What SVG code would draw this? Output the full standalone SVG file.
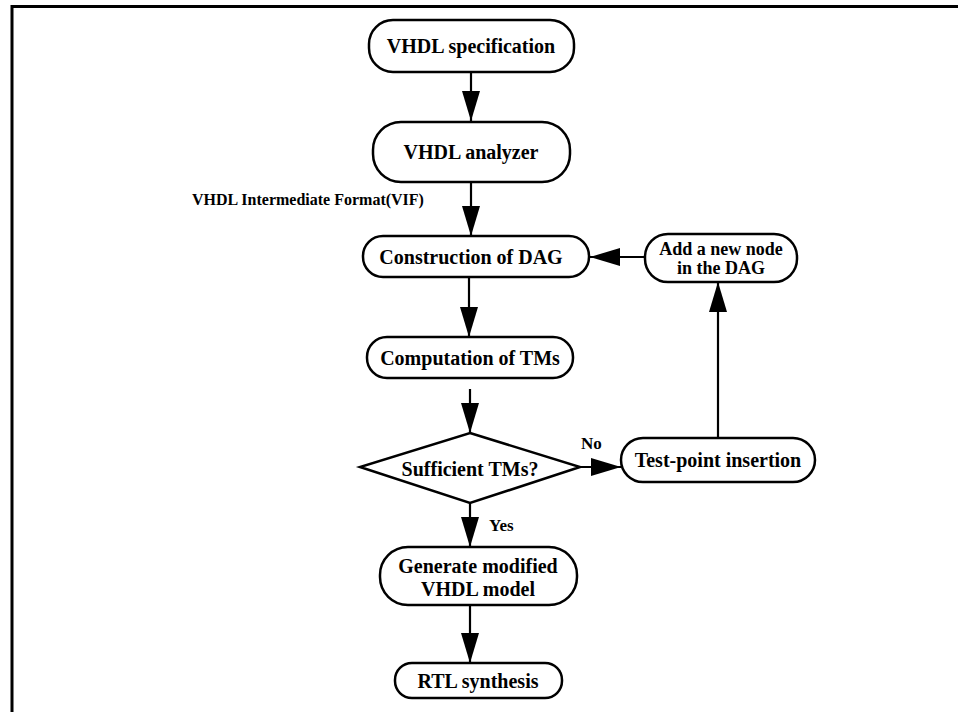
<svg xmlns="http://www.w3.org/2000/svg" width="965" height="712" viewBox="0 0 965 712">
  <style>
    .box { fill: #fff; stroke: #000; stroke-width: 2.5; }
    .lbl { font-family: "Liberation Serif", "Times New Roman", serif; font-weight: bold; font-size: 20px; fill: #000; text-anchor: middle; dominant-baseline: central; }
    .small { font-size: 18px; }
    .note { font-family: "Liberation Serif", "Times New Roman", serif; font-weight: bold; font-size: 16px; fill: #000; }
    .tag { font-family: "Liberation Serif", "Times New Roman", serif; font-weight: bold; font-size: 17px; fill: #000; }
    .edge { stroke: #000; stroke-width: 2.2; fill: none; marker-end: url(#head); }
    .frame { stroke: #000; stroke-width: 3; fill: none; }
  </style>
  <defs>
    <marker id="head" markerUnits="userSpaceOnUse" markerWidth="30" markerHeight="18" refX="30" refY="9" orient="auto">
      <path d="M0,0 L30,9 L0,18 Z" fill="#000"/>
    </marker>
  </defs>

  <rect width="965" height="712" fill="#fff"/>
  <!-- page frame: top and left rules -->
  <path class="frame" d="M12,712 L12,6.5 L958,6.5"/>

  <!-- connectors -->
  <g id="connectors">
    <line class="edge" x1="471" y1="72" x2="471" y2="121"/>
    <line class="edge" x1="471" y1="182" x2="471" y2="236"/>
    <line class="edge" x1="645" y1="257" x2="590" y2="257"/>
    <line class="edge" x1="469" y1="277" x2="469" y2="337"/>
    <line class="edge" x1="470" y1="389" x2="470" y2="433"/>
    <line class="edge" x1="580" y1="467" x2="621" y2="467"/>
    <line class="edge" x1="718" y1="438" x2="718" y2="282"/>
    <line class="edge" x1="470" y1="503" x2="470" y2="547"/>
    <line class="edge" x1="470" y1="605" x2="470" y2="663"/>
    <text class="note" x="192" y="205">VHDL Intermediate Format(VIF)</text>
    <text class="tag" x="581" y="449">No</text>
    <text class="tag" x="489" y="531">Yes</text>
  </g>

  <g id="vhdl-spec">
    <rect class="box" x="369" y="20" width="205" height="52" rx="24" ry="24"/>
    <text class="lbl" x="471" y="46">VHDL specification</text>
  </g>

  <g id="vhdl-analyzer">
    <rect class="box" x="373" y="122" width="197" height="60" rx="28" ry="28"/>
    <text class="lbl" x="471" y="152">VHDL analyzer</text>
  </g>

  <g id="dag-construction">
    <rect class="box" x="363" y="236" width="226" height="41" rx="20" ry="20"/>
    <text class="lbl" x="471" y="257">Construction of DAG</text>
  </g>

  <g id="add-node">
    <rect class="box" x="645" y="234" width="152" height="48" rx="23" ry="23"/>
    <text class="lbl small" x="721" y="248.5">Add a new node</text>
    <text class="lbl small" x="721" y="267.5">in the DAG</text>
  </g>

  <g id="tm-computation">
    <rect class="box" x="367" y="337" width="206" height="41" rx="20" ry="20"/>
    <text class="lbl" x="470" y="358">Computation of TMs</text>
  </g>

  <g id="tm-check">
    <polygon class="box" points="470,433 580,467 470,503 360,467"/>
    <text class="lbl" x="470" y="469">Sufficient TMs?</text>
  </g>

  <g id="test-point">
    <rect class="box" x="621" y="438" width="194" height="44" rx="22" ry="22"/>
    <text class="lbl" x="718" y="460">Test-point insertion</text>
  </g>

  <g id="generate-model">
    <rect class="box" x="380" y="547" width="197" height="58" rx="28" ry="28"/>
    <text class="lbl" x="478" y="566">Generate modified</text>
    <text class="lbl" x="478" y="589">VHDL model</text>
  </g>

  <g id="rtl-synthesis">
    <rect class="box" x="395" y="663" width="167" height="35" rx="17" ry="17"/>
    <text class="lbl" x="478" y="681">RTL synthesis</text>
  </g>
</svg>
